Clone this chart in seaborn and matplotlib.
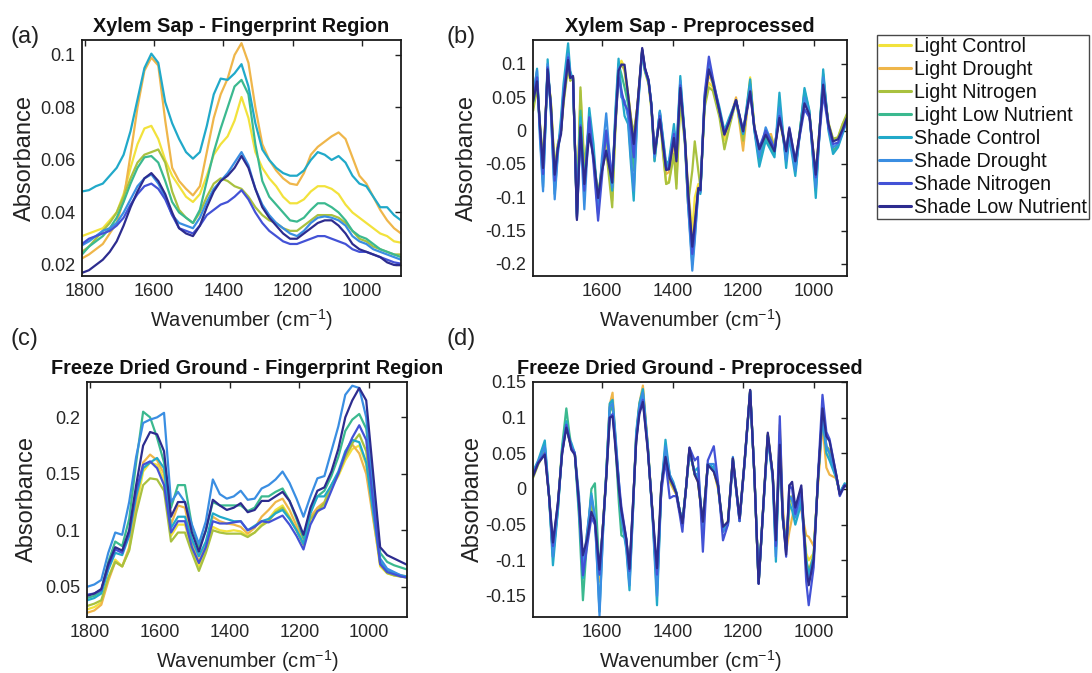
import matplotlib
matplotlib.use('Agg')
import matplotlib.pyplot as plt
import seaborn as sns
import pandas as pd
from matplotlib.lines import Line2D

# ---------------- data ----------------
groups = ['Light Control', 'Light Drought', 'Light Nitrogen', 'Light Low Nutrient',
          'Shade Control', 'Shade Drought', 'Shade Nitrogen', 'Shade Low Nutrient']
colors = ['#F2E23C', '#EFB64A', '#A9C13F', '#3BB98F',
          '#21A9C9', '#3A8EE2', '#4352D6', '#2D2C8F']

# fingerprint-region wavenumbers (panels a, c)
wn_fp = list(range(1808, 887, -20))

# (a) Xylem sap - fingerprint region
a_LC = [0.031, 0.032, 0.033, 0.034, 0.037, 0.040, 0.047, 0.057, 0.066, 0.072,
        0.073, 0.068, 0.060, 0.054, 0.050, 0.046, 0.044, 0.047, 0.054, 0.062,
        0.066, 0.069, 0.075, 0.084, 0.076, 0.063, 0.057, 0.053, 0.050, 0.046,
        0.0435, 0.0435, 0.045, 0.048, 0.050, 0.050, 0.049, 0.047, 0.043, 0.040,
        0.038, 0.036, 0.034, 0.032, 0.031, 0.029, 0.0285]
a_LD = [0.0225, 0.024, 0.026, 0.028, 0.032, 0.036, 0.045, 0.062, 0.080, 0.094,
        0.099, 0.096, 0.075, 0.057, 0.052, 0.049, 0.0465, 0.050, 0.063, 0.076,
        0.085, 0.091, 0.100, 0.1045, 0.097, 0.080, 0.066, 0.060, 0.056, 0.053,
        0.051, 0.0505, 0.055, 0.062, 0.065, 0.067, 0.069, 0.0705, 0.068, 0.061,
        0.054, 0.051, 0.046, 0.041, 0.037, 0.034, 0.032]
a_LN = [0.025, 0.027, 0.030, 0.033, 0.036, 0.040, 0.046, 0.053, 0.059, 0.062,
        0.063, 0.064, 0.059, 0.048, 0.041, 0.038, 0.036, 0.040, 0.046, 0.051,
        0.053, 0.052, 0.050, 0.049, 0.046, 0.042, 0.039, 0.037, 0.036, 0.034,
        0.033, 0.033, 0.035, 0.037, 0.039, 0.039, 0.039, 0.038, 0.036, 0.033,
        0.030, 0.029, 0.027, 0.026, 0.025, 0.024, 0.024]
a_LLN = [0.024, 0.027, 0.029, 0.031, 0.034, 0.038, 0.044, 0.051, 0.057, 0.061,
         0.0615, 0.059, 0.052, 0.044, 0.040, 0.038, 0.036, 0.041, 0.052, 0.063,
         0.072, 0.080, 0.088, 0.0905, 0.085, 0.066, 0.052, 0.046, 0.043, 0.040,
         0.037, 0.0365, 0.038, 0.041, 0.0435, 0.0435, 0.042, 0.040, 0.037, 0.033,
         0.031, 0.030, 0.028, 0.026, 0.025, 0.024, 0.023]
a_SC = [0.048, 0.0485, 0.050, 0.051, 0.054, 0.057, 0.062, 0.071, 0.083, 0.095,
        0.1005, 0.097, 0.082, 0.074, 0.068, 0.063, 0.0605, 0.063, 0.073, 0.085,
        0.091, 0.0905, 0.093, 0.0965, 0.088, 0.074, 0.064, 0.060, 0.057, 0.055,
        0.054, 0.054, 0.056, 0.060, 0.063, 0.062, 0.060, 0.0615, 0.059, 0.054,
        0.051, 0.050, 0.046, 0.042, 0.042, 0.039, 0.037]
a_SD = [0.0275, 0.029, 0.031, 0.033, 0.034, 0.036, 0.040, 0.045, 0.050, 0.053,
        0.0545, 0.051, 0.046, 0.039, 0.036, 0.035, 0.034, 0.038, 0.044, 0.049,
        0.052, 0.055, 0.059, 0.063, 0.058, 0.049, 0.043, 0.039, 0.036, 0.034,
        0.032, 0.031, 0.033, 0.036, 0.038, 0.0385, 0.038, 0.037, 0.035, 0.031,
        0.029, 0.028, 0.026, 0.025, 0.024, 0.023, 0.022]
a_SN = [0.028, 0.030, 0.031, 0.032, 0.033, 0.035, 0.038, 0.043, 0.047, 0.050,
        0.051, 0.049, 0.045, 0.039, 0.034, 0.033, 0.032, 0.035, 0.039, 0.041,
        0.043, 0.044, 0.046, 0.0485, 0.045, 0.040, 0.036, 0.033, 0.031, 0.029,
        0.028, 0.028, 0.029, 0.030, 0.031, 0.031, 0.030, 0.029, 0.028, 0.026,
        0.025, 0.025, 0.024, 0.023, 0.022, 0.021, 0.0205]
a_SLN = [0.017, 0.018, 0.020, 0.022, 0.025, 0.029, 0.035, 0.042, 0.048, 0.053,
         0.055, 0.052, 0.047, 0.040, 0.034, 0.032, 0.031, 0.035, 0.042, 0.048,
         0.052, 0.054, 0.057, 0.0615, 0.057, 0.049, 0.042, 0.038, 0.035, 0.032,
         0.030, 0.030, 0.032, 0.034, 0.036, 0.037, 0.037, 0.035, 0.032, 0.028,
         0.026, 0.025, 0.024, 0.023, 0.021, 0.020, 0.020]

# (c) Freeze dried ground - fingerprint region
c_LC = [0.030, 0.032, 0.036, 0.057, 0.074, 0.068, 0.083, 0.120, 0.152, 0.160,
        0.158, 0.145, 0.095, 0.105, 0.105, 0.084, 0.068, 0.082, 0.103, 0.100,
        0.099, 0.100, 0.099, 0.095, 0.098, 0.105, 0.110, 0.118, 0.122, 0.112,
        0.100, 0.088, 0.110, 0.116, 0.122, 0.138, 0.148, 0.162, 0.172, 0.175,
        0.158, 0.112, 0.068, 0.062, 0.060, 0.059, 0.058]
c_LD = [0.027, 0.029, 0.034, 0.055, 0.072, 0.068, 0.085, 0.125, 0.160, 0.167,
        0.162, 0.150, 0.105, 0.122, 0.120, 0.090, 0.072, 0.088, 0.112, 0.108,
        0.106, 0.105, 0.103, 0.097, 0.102, 0.112, 0.118, 0.125, 0.128, 0.118,
        0.104, 0.090, 0.112, 0.120, 0.125, 0.140, 0.150, 0.165, 0.176, 0.168,
        0.150, 0.110, 0.070, 0.063, 0.061, 0.060, 0.059]
c_LN = [0.033, 0.035, 0.038, 0.058, 0.072, 0.068, 0.082, 0.115, 0.140, 0.146,
        0.145, 0.135, 0.090, 0.098, 0.098, 0.080, 0.064, 0.080, 0.100, 0.098,
        0.097, 0.097, 0.097, 0.094, 0.098, 0.104, 0.108, 0.116, 0.120, 0.111,
        0.100, 0.087, 0.110, 0.117, 0.124, 0.140, 0.150, 0.165, 0.177, 0.185,
        0.170, 0.120, 0.070, 0.062, 0.060, 0.059, 0.058]
c_LLN = [0.040, 0.042, 0.046, 0.072, 0.090, 0.086, 0.110, 0.160, 0.205, 0.200,
         0.182, 0.160, 0.120, 0.140, 0.140, 0.104, 0.085, 0.100, 0.125, 0.122,
         0.122, 0.122, 0.122, 0.117, 0.120, 0.130, 0.130, 0.134, 0.137, 0.126,
         0.110, 0.093, 0.118, 0.130, 0.135, 0.148, 0.165, 0.188, 0.198, 0.203,
         0.190, 0.140, 0.080, 0.072, 0.069, 0.067, 0.065]
c_SC = [0.038, 0.040, 0.044, 0.065, 0.080, 0.078, 0.095, 0.130, 0.155, 0.160,
        0.164, 0.155, 0.102, 0.112, 0.112, 0.092, 0.077, 0.090, 0.115, 0.112,
        0.110, 0.108, 0.108, 0.100, 0.104, 0.108, 0.110, 0.115, 0.118, 0.110,
        0.100, 0.088, 0.115, 0.130, 0.130, 0.140, 0.152, 0.170, 0.180, 0.178,
        0.160, 0.115, 0.072, 0.065, 0.062, 0.060, 0.059]
c_SD = [0.050, 0.052, 0.056, 0.080, 0.098, 0.096, 0.125, 0.165, 0.195, 0.198,
        0.200, 0.204, 0.125, 0.134, 0.125, 0.105, 0.088, 0.108, 0.145, 0.132,
        0.128, 0.130, 0.135, 0.127, 0.128, 0.137, 0.140, 0.145, 0.152, 0.142,
        0.128, 0.112, 0.130, 0.146, 0.148, 0.170, 0.192, 0.220, 0.228, 0.226,
        0.200, 0.130, 0.075, 0.066, 0.063, 0.060, 0.058]
c_SN = [0.043, 0.044, 0.047, 0.068, 0.083, 0.080, 0.098, 0.135, 0.158, 0.161,
        0.155, 0.140, 0.098, 0.108, 0.108, 0.085, 0.071, 0.085, 0.108, 0.106,
        0.106, 0.107, 0.108, 0.100, 0.103, 0.108, 0.107, 0.110, 0.113, 0.105,
        0.095, 0.083, 0.105, 0.117, 0.120, 0.135, 0.150, 0.168, 0.182, 0.193,
        0.180, 0.125, 0.070, 0.063, 0.061, 0.059, 0.058]
c_SLN = [0.042, 0.044, 0.048, 0.070, 0.085, 0.082, 0.100, 0.140, 0.175, 0.187,
         0.185, 0.170, 0.112, 0.125, 0.125, 0.098, 0.081, 0.100, 0.127, 0.122,
         0.118, 0.120, 0.124, 0.116, 0.118, 0.126, 0.126, 0.130, 0.134, 0.126,
         0.112, 0.096, 0.120, 0.135, 0.138, 0.152, 0.172, 0.200, 0.215, 0.226,
         0.215, 0.150, 0.085, 0.078, 0.075, 0.072, 0.069]

# (b) Xylem sap - preprocessed
wn_b = [1795, 1784, 1776, 1767, 1760, 1754, 1745, 1734, 1725, 1716,
        1709, 1696, 1690, 1682, 1671, 1661, 1650, 1636, 1624, 1611,
        1600, 1588, 1571, 1562, 1553, 1545, 1536, 1526, 1518, 1510,
        1500, 1486, 1478, 1468, 1460, 1451, 1436, 1427, 1418, 1410,
        1396, 1389, 1378, 1365, 1356, 1344, 1337, 1327, 1321, 1309,
        1297, 1286, 1267, 1253, 1239, 1220, 1200, 1180, 1168, 1154,
        1136, 1121, 1111, 1097, 1078, 1069, 1052, 1026, 1012, 994,
        973, 958, 945, 931, 918, 906]
b_LC = [0.035, 0.070, 0.010, -0.050, 0.020, 0.088, 0.045, -0.060, -0.020, 0.000,
        0.045, 0.100, 0.075, 0.080, -0.125, 0.060, -0.060, 0.010, -0.040, -0.100,
        -0.055, -0.020, -0.105, 0.010, 0.095, 0.105, 0.095, 0.055, 0.020, -0.010,
        0.035, 0.120, 0.090, 0.072, 0.035, -0.040, 0.025, -0.030, -0.080, -0.075,
        -0.030, -0.080, 0.050, -0.010, -0.085, -0.150, -0.100, -0.080, -0.088, 0.040,
        0.072, 0.065, 0.028, -0.015, 0.010, 0.048, -0.020, 0.080, 0.005, -0.030,
        -0.005, -0.010, -0.025, 0.020, -0.035, 0.000, -0.055, 0.050, 0.025, -0.070,
        0.070, 0.010, -0.015, -0.010, 0.010, 0.022]
b_LD = [0.040, 0.072, 0.008, -0.055, 0.018, 0.090, 0.040, -0.065, -0.025, 0.000,
        0.045, 0.105, 0.078, 0.080, -0.130, 0.040, -0.070, 0.005, -0.040, -0.105,
        -0.050, -0.010, -0.090, 0.010, 0.095, 0.100, 0.090, 0.050, 0.015, -0.015,
        0.035, 0.122, 0.092, 0.074, 0.038, -0.035, 0.020, -0.025, -0.065, -0.062,
        -0.015, -0.055, 0.062, -0.012, -0.095, -0.170, -0.135, -0.085, -0.090, 0.042,
        0.085, 0.070, 0.030, -0.008, 0.014, 0.050, -0.030, 0.075, 0.004, -0.030,
        -0.008, -0.005, -0.025, 0.022, -0.032, 0.002, -0.050, 0.045, 0.024, -0.068,
        0.068, 0.010, -0.015, -0.012, 0.005, 0.020]
b_LN = [0.030, 0.065, 0.012, -0.045, 0.022, 0.085, 0.045, -0.055, -0.020, 0.000,
        0.040, 0.095, 0.075, 0.078, -0.122, 0.065, -0.055, 0.010, -0.040, -0.095,
        -0.060, -0.030, -0.115, 0.000, 0.090, 0.100, 0.092, 0.055, 0.020, -0.005,
        0.035, 0.118, 0.088, 0.070, 0.032, -0.045, 0.025, -0.035, -0.080, -0.078,
        -0.035, -0.087, 0.045, -0.020, -0.110, -0.060, -0.016, -0.060, -0.085, 0.035,
        0.065, 0.060, 0.020, -0.028, 0.005, 0.045, -0.015, 0.070, 0.005, -0.035,
        -0.010, -0.010, -0.025, 0.018, -0.035, 0.000, -0.055, 0.055, 0.025, -0.070,
        0.072, 0.012, -0.012, -0.010, 0.010, 0.025]
b_LLN = [0.042, 0.080, 0.005, -0.065, 0.015, 0.095, 0.038, -0.075, -0.028, 0.005,
         0.055, 0.118, 0.085, 0.078, -0.128, 0.030, -0.080, 0.020, -0.035, -0.105,
         -0.050, 0.000, -0.085, 0.020, 0.100, 0.085, 0.065, 0.040, -0.010, -0.060,
         0.030, 0.120, 0.090, 0.074, 0.038, -0.040, 0.028, -0.015, -0.055, -0.050,
         0.000, -0.035, 0.072, -0.012, -0.100, -0.180, -0.145, -0.088, -0.092, 0.045,
         0.095, 0.072, 0.030, -0.002, 0.016, 0.045, -0.005, 0.070, 0.002, -0.045,
         -0.010, -0.025, -0.035, 0.040, -0.045, -0.005, -0.060, 0.060, 0.028, -0.090,
         0.085, 0.005, -0.030, -0.022, -0.002, 0.018]
b_SC = [0.050, 0.093, 0.000, -0.085, 0.010, 0.107, 0.030, -0.095, -0.030, 0.020,
        0.070, 0.131, 0.090, 0.075, -0.125, 0.020, -0.090, 0.034, -0.020, -0.115,
        -0.050, 0.000, -0.090, 0.030, 0.108, 0.060, 0.022, 0.010, -0.050, -0.105,
        0.020, 0.120, 0.090, 0.075, 0.040, -0.046, 0.030, -0.010, -0.050, -0.045,
        0.010, -0.030, 0.082, -0.010, -0.110, -0.200, -0.160, -0.090, -0.095, 0.050,
        0.100, 0.075, 0.035, 0.000, 0.020, 0.045, -0.005, 0.077, 0.000, -0.054,
        -0.015, -0.030, -0.040, 0.057, -0.056, -0.010, -0.068, 0.064, 0.030, -0.101,
        0.092, 0.000, -0.035, -0.025, -0.005, 0.015]
b_SD = [0.055, 0.090, -0.010, -0.091, 0.010, 0.100, 0.030, -0.103, -0.035, 0.010,
        0.060, 0.115, 0.085, 0.078, -0.130, 0.000, -0.118, 0.020, -0.040, -0.125,
        -0.040, 0.026, -0.085, 0.020, 0.095, 0.050, 0.045, 0.020, -0.040, -0.090,
        0.025, 0.120, 0.092, 0.077, 0.040, -0.040, 0.028, -0.015, -0.055, -0.050,
        0.000, -0.035, 0.075, -0.015, -0.110, -0.210, -0.165, -0.090, -0.092, 0.048,
        0.100, 0.075, 0.030, -0.003, 0.015, 0.045, -0.003, 0.065, 0.002, -0.040,
        0.005, -0.015, -0.030, 0.035, -0.045, -0.005, -0.060, 0.050, 0.025, -0.085,
        0.080, 0.005, -0.025, -0.020, -0.002, 0.015]
b_SN = [0.048, 0.080, 0.005, -0.065, 0.015, 0.095, 0.035, -0.075, -0.025, 0.000,
        0.050, 0.110, 0.080, 0.080, -0.132, 0.008, -0.090, 0.020, -0.050, -0.135,
        -0.070, 0.000, -0.070, 0.010, 0.080, 0.060, 0.040, 0.030, 0.000, -0.040,
        0.030, 0.122, 0.093, 0.075, 0.038, -0.035, 0.022, -0.018, -0.058, -0.055,
        -0.005, -0.040, 0.068, -0.015, -0.100, -0.185, -0.150, -0.088, -0.090, 0.055,
        0.111, 0.080, 0.030, -0.005, 0.014, 0.045, 0.000, 0.055, 0.005, -0.025,
        0.000, -0.015, -0.028, 0.022, -0.030, 0.005, -0.045, 0.032, 0.020, -0.070,
        0.055, 0.005, -0.020, -0.018, 0.000, 0.015]
b_SLN = [0.044, 0.074, 0.010, -0.056, 0.020, 0.092, 0.040, -0.066, -0.026, -0.005,
         0.045, 0.106, 0.079, 0.082, -0.134, 0.005, -0.080, -0.005, -0.040, -0.101,
         -0.060, -0.030, -0.078, 0.010, 0.090, 0.099, 0.099, 0.054, 0.015, -0.020,
         0.035, 0.124, 0.094, 0.075, 0.039, -0.034, 0.017, -0.021, -0.059, -0.058,
         -0.011, -0.046, 0.064, -0.010, -0.090, -0.174, -0.140, -0.086, -0.089, 0.044,
         0.092, 0.074, 0.029, -0.006, 0.014, 0.046, -0.001, 0.059, 0.004, -0.028,
         -0.006, -0.021, -0.031, 0.019, -0.031, 0.003, -0.046, 0.041, 0.024, -0.066,
         0.069, 0.010, -0.016, -0.013, 0.002, 0.019]

# (d) Freeze dried ground - preprocessed
wn_d = [1795, 1781, 1762, 1750, 1739, 1725, 1713, 1701, 1693, 1687,
        1677, 1665, 1654, 1642, 1630, 1620, 1607, 1597, 1588, 1578,
        1570, 1564, 1552, 1545, 1531, 1522, 1512, 1503, 1494, 1484,
        1470, 1456, 1444, 1432, 1420, 1408, 1398, 1389, 1380, 1372,
        1362, 1352, 1337, 1328, 1314, 1300, 1283, 1271, 1257, 1243,
        1229, 1210, 1196, 1180, 1168, 1156, 1142, 1130, 1116, 1107,
        1096, 1088, 1078, 1069, 1061, 1052, 1035, 1021, 1014, 1000,
        987, 975, 964, 955, 936, 926, 912, 906]
d_LC = [0.018, 0.035, 0.055, -0.010, -0.088, -0.022, 0.055, 0.092, 0.070, 0.058,
        0.050, -0.020, -0.115, -0.065, -0.025, -0.040, -0.125, -0.050, 0.018, 0.112,
        0.125, 0.080, 0.000, -0.040, -0.075, -0.122, -0.025, 0.072, 0.118, 0.140,
        0.058, -0.040, -0.135, 0.000, 0.052, 0.012, 0.002, -0.008, -0.030, -0.048,
        0.000, 0.055, 0.020, 0.012, -0.048, 0.035, 0.025, 0.002, -0.055, -0.046,
        0.043, -0.043, 0.037, 0.138, 0.020, -0.132, -0.018, 0.077, 0.020, -0.078,
        0.080, -0.030, -0.085, -0.030, -0.020, -0.030, -0.015, -0.090, -0.100, -0.090,
        0.015, 0.100, 0.050, 0.045, 0.016, -0.006, 0.006, 0.004]
d_LD = [0.020, 0.036, 0.055, -0.010, -0.090, -0.025, 0.055, 0.095, 0.072, 0.060,
        0.050, -0.020, -0.120, -0.060, -0.020, -0.040, -0.130, -0.050, 0.020, 0.118,
        0.135, 0.085, 0.000, -0.045, -0.075, -0.125, -0.025, 0.075, 0.120, 0.145,
        0.060, -0.040, -0.140, 0.000, 0.055, 0.010, 0.000, -0.008, -0.030, -0.048,
        0.000, 0.055, 0.020, 0.010, -0.050, 0.035, 0.025, 0.000, -0.055, -0.046,
        0.043, -0.045, 0.036, 0.137, 0.020, -0.132, -0.018, 0.075, 0.020, -0.080,
        0.090, -0.020, -0.088, -0.060, -0.040, -0.020, -0.030, -0.065, -0.067, -0.080,
        0.010, 0.090, 0.030, 0.020, 0.015, -0.006, 0.006, 0.004]
d_LN = [0.016, 0.034, 0.052, -0.010, -0.085, -0.022, 0.052, 0.090, 0.070, 0.057,
        0.050, -0.020, -0.110, -0.065, -0.025, -0.040, -0.120, -0.050, 0.016, 0.108,
        0.118, 0.078, 0.000, -0.038, -0.073, -0.118, -0.024, 0.070, 0.115, 0.135,
        0.056, -0.039, -0.130, 0.002, 0.050, 0.012, 0.003, -0.007, -0.030, -0.048,
        0.000, 0.056, 0.020, 0.012, -0.048, 0.035, 0.025, 0.003, -0.054, -0.046,
        0.043, -0.042, 0.037, 0.138, 0.020, -0.132, -0.018, 0.077, 0.020, -0.080,
        0.075, -0.035, -0.085, -0.020, -0.010, -0.032, -0.005, -0.100, -0.115, -0.092,
        0.018, 0.105, 0.060, 0.055, 0.018, -0.006, 0.006, 0.004]
d_LLN = [0.020, 0.036, 0.060, -0.010, -0.095, -0.030, 0.060, 0.113, 0.080, 0.060,
         0.050, -0.040, -0.156, -0.070, 0.000, 0.008, -0.120, -0.050, 0.020, 0.110,
         0.115, 0.080, -0.020, -0.065, -0.070, -0.125, -0.025, 0.070, 0.115, 0.130,
         0.058, -0.040, -0.135, 0.000, 0.055, 0.018, 0.006, -0.006, -0.030, -0.048,
         0.000, 0.055, 0.020, 0.015, -0.050, 0.035, 0.028, 0.005, -0.055, -0.048,
         0.042, -0.042, 0.036, 0.137, 0.020, -0.132, -0.018, 0.075, 0.018, -0.085,
         0.070, -0.040, -0.080, -0.010, -0.015, -0.040, -0.010, -0.100, -0.125, -0.095,
         0.020, 0.105, 0.060, 0.050, 0.018, -0.006, 0.006, 0.004]
d_SC = [0.025, 0.040, 0.068, -0.010, -0.107, -0.030, 0.055, 0.095, 0.070, 0.065,
        0.050, -0.030, -0.125, -0.070, -0.006, -0.040, -0.172, -0.060, 0.020, 0.120,
        0.125, 0.090, 0.010, -0.040, -0.085, -0.142, -0.030, 0.080, 0.120, 0.140,
        0.060, -0.045, -0.163, 0.000, 0.069, 0.020, 0.010, -0.005, -0.030, -0.045,
        0.000, 0.050, 0.025, 0.030, -0.060, 0.035, 0.030, 0.005, -0.060, -0.050,
        0.040, -0.045, 0.035, 0.136, 0.020, -0.130, -0.020, 0.070, 0.015, -0.102,
        0.075, -0.040, -0.080, -0.020, -0.030, -0.050, -0.020, -0.100, -0.120, -0.095,
        0.020, 0.100, 0.050, 0.040, 0.015, -0.005, 0.008, 0.005]
d_SD = [0.022, 0.038, 0.060, -0.010, -0.095, -0.025, 0.050, 0.090, 0.070, 0.060,
        0.050, -0.010, -0.110, -0.060, -0.010, -0.040, -0.178, -0.060, 0.020, 0.115,
        0.120, 0.085, 0.005, -0.040, -0.080, -0.135, -0.030, 0.075, 0.115, 0.135,
        0.058, -0.042, -0.150, 0.000, 0.060, 0.020, 0.008, -0.005, -0.030, -0.050,
        0.000, 0.055, 0.022, 0.020, -0.055, 0.035, 0.035, 0.005, -0.060, -0.050,
        0.045, -0.045, 0.038, 0.138, 0.020, -0.132, -0.020, 0.075, 0.018, -0.095,
        0.080, -0.040, -0.085, -0.010, -0.015, -0.040, -0.010, -0.110, -0.130, -0.097,
        0.020, 0.105, 0.060, 0.050, 0.018, -0.006, 0.006, 0.004]
d_SN = [0.020, 0.037, 0.050, -0.010, -0.080, -0.020, 0.050, 0.090, 0.072, 0.058,
        0.050, -0.025, -0.121, -0.080, -0.040, -0.050, -0.120, -0.050, 0.015, 0.100,
        0.105, 0.075, 0.010, -0.025, -0.070, -0.115, -0.020, 0.068, 0.108, 0.125,
        0.055, -0.040, -0.120, -0.005, 0.040, -0.013, -0.010, -0.010, -0.035, -0.060,
        0.000, 0.058, 0.040, 0.045, -0.088, 0.040, 0.060, 0.010, -0.072, -0.050,
        0.040, -0.045, 0.035, 0.138, 0.020, -0.133, -0.020, 0.075, 0.020, -0.080,
        0.102, -0.030, -0.095, 0.005, 0.000, -0.035, 0.000, -0.130, -0.163, -0.110,
        0.025, 0.132, 0.080, 0.070, 0.020, -0.010, 0.005, 0.003]
d_SLN = [0.018, 0.036, 0.048, -0.010, -0.075, -0.020, 0.050, 0.086, 0.070, 0.055,
         0.048, -0.020, -0.093, -0.070, -0.032, -0.045, -0.113, -0.050, 0.015, 0.100,
         0.102, 0.070, 0.000, -0.030, -0.070, -0.112, -0.020, 0.066, 0.105, 0.122,
         0.053, -0.037, -0.111, 0.005, 0.045, 0.015, 0.005, -0.006, -0.030, -0.048,
         0.000, 0.058, 0.020, 0.010, -0.046, 0.034, 0.024, 0.005, -0.053, -0.046,
         0.043, -0.041, 0.038, 0.139, 0.020, -0.133, -0.017, 0.079, 0.020, -0.072,
         0.062, -0.036, -0.092, 0.005, 0.010, -0.026, 0.005, -0.111, -0.135, -0.099,
         0.020, 0.113, 0.074, 0.067, 0.020, -0.008, 0.005, 0.003]

titles = ['Xylem Sap - Fingerprint Region', 'Xylem Sap - Preprocessed',
          'Freeze Dried Ground - Fingerprint Region', 'Freeze Dried Ground - Preprocessed']
panel_tags = ['(a)', '(b)', '(c)', '(d)']
xticks_fp = [1800, 1600, 1400, 1200, 1000]
xticks_pp = [1600, 1400, 1200, 1000]
yticks_a = [0.02, 0.04, 0.06, 0.08, 0.1]
ylabels_a = ['0.02', '0.04', '0.06', '0.08', '0.1']
yticks_b = [-0.2, -0.15, -0.1, -0.05, 0, 0.05, 0.1]
ylabels_b = ['-0.2', '-0.15', '-0.1', '-0.05', '0', '0.05', '0.1']
yticks_c = [0.05, 0.1, 0.15, 0.2]
ylabels_c = ['0.05', '0.1', '0.15', '0.2']
yticks_d = [-0.15, -0.1, -0.05, 0, 0.05, 0.1, 0.15]
ylabels_d = ['-0.15', '-0.1', '-0.05', '0', '0.05', '0.1', '0.15']

# ---------------- style ----------------
sns.set_theme(style='white')
plt.rcParams['font.family'] = ['Liberation Sans', 'DejaVu Sans']
plt.rcParams['mathtext.fontset'] = 'custom'
plt.rcParams['mathtext.rm'] = 'Liberation Sans'
plt.rcParams['mathtext.default'] = 'regular'
plt.rcParams['lines.solid_joinstyle'] = 'round'


def long_df(x, series):
    frames = [pd.DataFrame({'wn': x, 'abs': vals, 'group': g})
              for g, vals in zip(groups, series)]
    return pd.concat(frames, ignore_index=True)


W, H = 1092, 673
fig = plt.figure(figsize=(W / 100, H / 100), dpi=100)


def px_axes(left, right, top, bottom):
    return fig.add_axes([left / W, 1 - bottom / H, (right - left) / W, (bottom - top) / H])


ax_a = px_axes(82, 401, 40, 276)
ax_b = px_axes(533, 847, 40, 276)
ax_c = px_axes(87, 407, 382, 617)
ax_d = px_axes(533, 847, 382, 617)

panels = [
    (ax_a, long_df(wn_fp, [a_LC, a_LD, a_LN, a_LLN, a_SC, a_SD, a_SN, a_SLN]),
     (1808, 888), (0.0158, 0.1057), xticks_fp, yticks_a, ylabels_a, -0.145),
    (ax_b, long_df(wn_b, [b_LC, b_LD, b_LN, b_LLN, b_SC, b_SD, b_SN, b_SLN]),
     (1795.5, 905.5), (-0.218, 0.136), xticks_pp, yticks_b, ylabels_b, -0.175),
    (ax_c, long_df(wn_fp, [c_LC, c_LD, c_LN, c_LLN, c_SC, c_SD, c_SN, c_SLN]),
     (1809, 891), (0.0232, 0.2313), xticks_fp, yticks_c, ylabels_c, -0.153),
    (ax_d, long_df(wn_d, [d_LC, d_LD, d_LN, d_LLN, d_SC, d_SD, d_SN, d_SLN]),
     (1795.5, 905.5), (-0.1795, 0.15), xticks_pp, yticks_d, ylabels_d, -0.156),
]

for (ax, df, xl, yl, xt, yt, ytl, ylx), title in zip(panels, titles):
    sns.lineplot(data=df, x='wn', y='abs', hue='group', hue_order=groups,
                 palette=colors, estimator=None, sort=False, legend=False,
                 linewidth=1.6, ax=ax)
    ax.set_xlim(xl)
    ax.set_ylim(yl)
    ax.set_xticks(xt)
    ax.set_xticklabels([str(v) for v in xt])
    ax.set_yticks(yt)
    ax.set_yticklabels(ytl)
    ax.tick_params(direction='in', top=True, right=True, length=4, width=1,
                   labelsize=13, pad=5, colors='#222222', labelcolor='#262626')
    for s in ax.spines.values():
        s.set_linewidth(1.3)
        s.set_color('#1a1a1a')
    ax.set_title(title, fontweight='bold', fontsize=14.3, pad=6, color='#111111')
    ax.set_xlabel('Wavenumber (cm$^{-1}$)', fontsize=14.5, labelpad=5, color='#222222')
    ax.set_ylabel('Absorbance', fontsize=17, color='#222222')
    ax.yaxis.set_label_coords(ylx, 0.5)
    ax.grid(False)

# panel tags
for tag, (xp, yp) in zip(panel_tags, [(11, 37), (447, 37), (11, 339), (447, 339)]):
    fig.text(xp / W, 1 - yp / H, tag, fontsize=17, va='center', ha='left', color='#222222')

# legend
handles = [Line2D([0], [0], color=c, lw=2.2) for c in colors]
leg = fig.legend(handles, groups, loc='upper left', bbox_to_anchor=(877 / W, 1 - 35 / H),
                 frameon=True, fancybox=False, edgecolor='#1a1a1a', fontsize=14.1,
                 handlelength=1.6, handletextpad=0.15, labelspacing=0.2,
                 borderpad=0.12, borderaxespad=0)
leg.get_frame().set_linewidth(1.0)
for t in leg.get_texts():
    t.set_color('#111111')

fig.savefig('out.png', dpi=100)
